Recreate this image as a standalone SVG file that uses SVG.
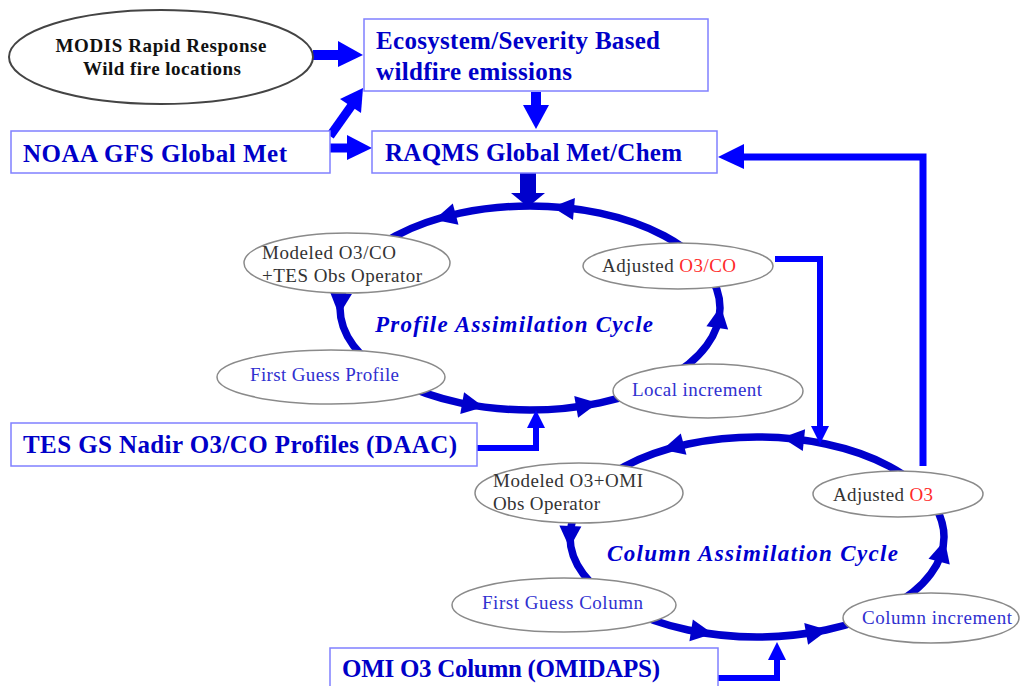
<svg xmlns="http://www.w3.org/2000/svg" xmlns:xlink="http://www.w3.org/1999/xlink" width="1020" height="686" viewBox="0 0 1020 686">
<style>
text{font-family:"Liberation Serif","Times New Roman",serif;}
.box{fill:#fff;stroke:#8080ff;stroke-width:1.5;}
.btxt{font-size:25px;font-weight:bold;fill:#0000c8;}
.ell{fill:#fff;stroke:#8a8a8a;stroke-width:1.5;}
.etxt{font-size:19px;fill:#333;}
.btx{font-size:19px;fill:#3030d0;}
.red{fill:#ff2a2a;}
.cyc{fill:none;stroke:#0000cc;stroke-width:7.5;}
.cl{font-size:23px;font-weight:bold;font-style:italic;fill:#0000d0;}
.con{fill:none;stroke:#0000ff;}
.hd{fill:#0000ff;}
.ch{fill:#0000cc;}
</style>
<defs>
<path id="ah" d="M11,0 L-11,-11 L-11,11 Z"/>
</defs>
<rect width="1020" height="686" fill="#fff"/>

<g id="cycles">
<ellipse class="cyc" cx="530" cy="308" rx="190" ry="102"/>
<ellipse class="cyc" cx="757" cy="537" rx="187" ry="100"/>
<g class="ch">
<use xlink:href="#ah" href="#ah" transform="translate(445,217) rotate(165)"/>
<use xlink:href="#ah" href="#ah" transform="translate(563,208) rotate(185)"/>
<use xlink:href="#ah" href="#ah" transform="translate(340,304) rotate(95)"/>
<use xlink:href="#ah" href="#ah" transform="translate(473,405) rotate(10)"/>
<use xlink:href="#ah" href="#ah" transform="translate(587,405) rotate(-10)"/>
<use xlink:href="#ah" href="#ah" transform="translate(719,317) rotate(-81)"/>
<use xlink:href="#ah" href="#ah" transform="translate(673,447) rotate(165)"/>
<use xlink:href="#ah" href="#ah" transform="translate(793,439) rotate(186)"/>
<use xlink:href="#ah" href="#ah" transform="translate(570,537) rotate(92)"/>
<use xlink:href="#ah" href="#ah" transform="translate(702,632) rotate(9)"/>
<use xlink:href="#ah" href="#ah" transform="translate(817,632) rotate(-10)"/>
<use xlink:href="#ah" href="#ah" transform="translate(942,551) rotate(-75)"/>
</g>
</g>

<g id="connectors">
<line class="con" x1="313" y1="55" x2="340" y2="55" stroke-width="10"/>
<polygon class="hd" points="338,41 363,55 338,67"/>
<line class="con" x1="330" y1="136" x2="352" y2="105" stroke-width="9"/>
<polygon class="hd" points="361,113 340,99 363,88"/>
<line class="con" x1="330" y1="148" x2="350" y2="148" stroke-width="9"/>
<polygon class="hd" points="347,135 372,148 347,160"/>
<line class="con" x1="536" y1="92" x2="536" y2="108" stroke-width="10"/>
<polygon class="hd" points="523,105 549,105 536,129"/>
<rect x="520" y="173" width="16" height="21" fill="#0000cc"/>
<polygon class="ch" points="511,193 545,193 528,207"/>
<polyline class="con" points="923,466 923,157 741,157" stroke-width="7"/>
<polygon class="hd" points="744,144 718,157 744,169"/>
<polyline class="con" points="775,259 820,259 820,428" stroke-width="6"/>
<polygon class="hd" points="811,426 829,426 820,444"/>
<polyline class="con" points="477,448 536,448 536,426" stroke-width="6"/>
<polygon class="hd" points="527,428 545,428 536,410"/>
<polyline class="con" points="718,678 777,678 777,658" stroke-width="6"/>
<polygon class="hd" points="768,660 786,660 777,642"/>
</g>

<g id="modis">
<ellipse cx="161" cy="57" rx="152" ry="47" fill="#fff" stroke="#444" stroke-width="2"/>
<text x="161" y="52" text-anchor="middle" font-size="19" font-weight="bold" fill="#111" textLength="211" lengthAdjust="spacing">MODIS Rapid Response</text>
<text x="162" y="75" text-anchor="middle" font-size="19" font-weight="bold" fill="#111" textLength="158" lengthAdjust="spacing">Wild fire locations</text>
</g>

<g id="ecosystem">
<rect class="box" x="364" y="19" width="344" height="72"/>
<text class="btxt" x="376" y="49" textLength="284" lengthAdjust="spacing">Ecosystem/Severity Based</text>
<text class="btxt" x="376" y="80" textLength="196" lengthAdjust="spacing">wildfire emissions</text>
</g>

<g id="noaa">
<rect class="box" x="11" y="131" width="319" height="42"/>
<text class="btxt" x="23" y="162" textLength="264" lengthAdjust="spacing">NOAA GFS Global Met</text>
</g>

<g id="raqms">
<rect class="box" x="372" y="131" width="345" height="42"/>
<text class="btxt" x="385" y="161" textLength="297" lengthAdjust="spacing">RAQMS Global Met/Chem</text>
</g>

<g id="profile-label">
<text class="cl" x="375" y="332" textLength="278" lengthAdjust="spacing">Profile Assimilation Cycle</text>
</g>

<g id="modeled-o3co">
<ellipse class="ell" cx="347" cy="263" rx="103" ry="30"/>
<text class="etxt" x="262" y="259" textLength="134" lengthAdjust="spacing">Modeled O3/CO</text>
<text class="etxt" x="262" y="282" textLength="160" lengthAdjust="spacing">+TES Obs Operator</text>
</g>

<g id="adjusted-o3co">
<ellipse class="ell" cx="678" cy="266" rx="95" ry="23"/>
<text class="etxt" x="602" y="272" textLength="134" lengthAdjust="spacing">Adjusted <tspan class="red">O3/CO</tspan></text>
</g>

<g id="first-guess-profile">
<ellipse class="ell" cx="331" cy="377" rx="114" ry="27"/>
<text class="btx" x="250" y="381" textLength="149" lengthAdjust="spacing">First Guess Profile</text>
</g>

<g id="local-increment">
<ellipse class="ell" cx="708" cy="391" rx="95" ry="27"/>
<text class="btx" x="632" y="396" textLength="130" lengthAdjust="spacing">Local increment</text>
</g>

<g id="tes">
<rect class="box" x="11" y="423" width="466" height="43"/>
<text class="btxt" x="23" y="453" textLength="434" lengthAdjust="spacing">TES GS Nadir O3/CO Profiles (DAAC)</text>
</g>

<g id="column-label">
<text class="cl" x="607" y="561" textLength="291" lengthAdjust="spacing">Column Assimilation Cycle</text>
</g>

<g id="modeled-o3omi">
<ellipse class="ell" cx="579" cy="493" rx="104" ry="30"/>
<text class="etxt" x="493" y="487" textLength="150" lengthAdjust="spacing">Modeled O3+OMI</text>
<text class="etxt" x="493" y="510" textLength="107" lengthAdjust="spacing">Obs Operator</text>
</g>

<g id="adjusted-o3">
<ellipse class="ell" cx="898" cy="494" rx="85" ry="23"/>
<text class="etxt" x="833" y="501" textLength="100" lengthAdjust="spacing">Adjusted <tspan class="red">O3</tspan></text>
</g>

<g id="first-guess-column">
<ellipse class="ell" cx="564" cy="605" rx="112" ry="27"/>
<text class="btx" x="482" y="609" textLength="161" lengthAdjust="spacing">First Guess Column</text>
</g>

<g id="column-increment">
<ellipse class="ell" cx="931" cy="618" rx="88" ry="25"/>
<text class="btx" x="862" y="624" textLength="150" lengthAdjust="spacing">Column increment</text>
</g>

<g id="omi">
<rect class="box" x="330" y="648" width="388" height="45"/>
<text class="btxt" x="342" y="677" textLength="318" lengthAdjust="spacing">OMI O3 Column (OMIDAPS)</text>
</g>
</svg>
